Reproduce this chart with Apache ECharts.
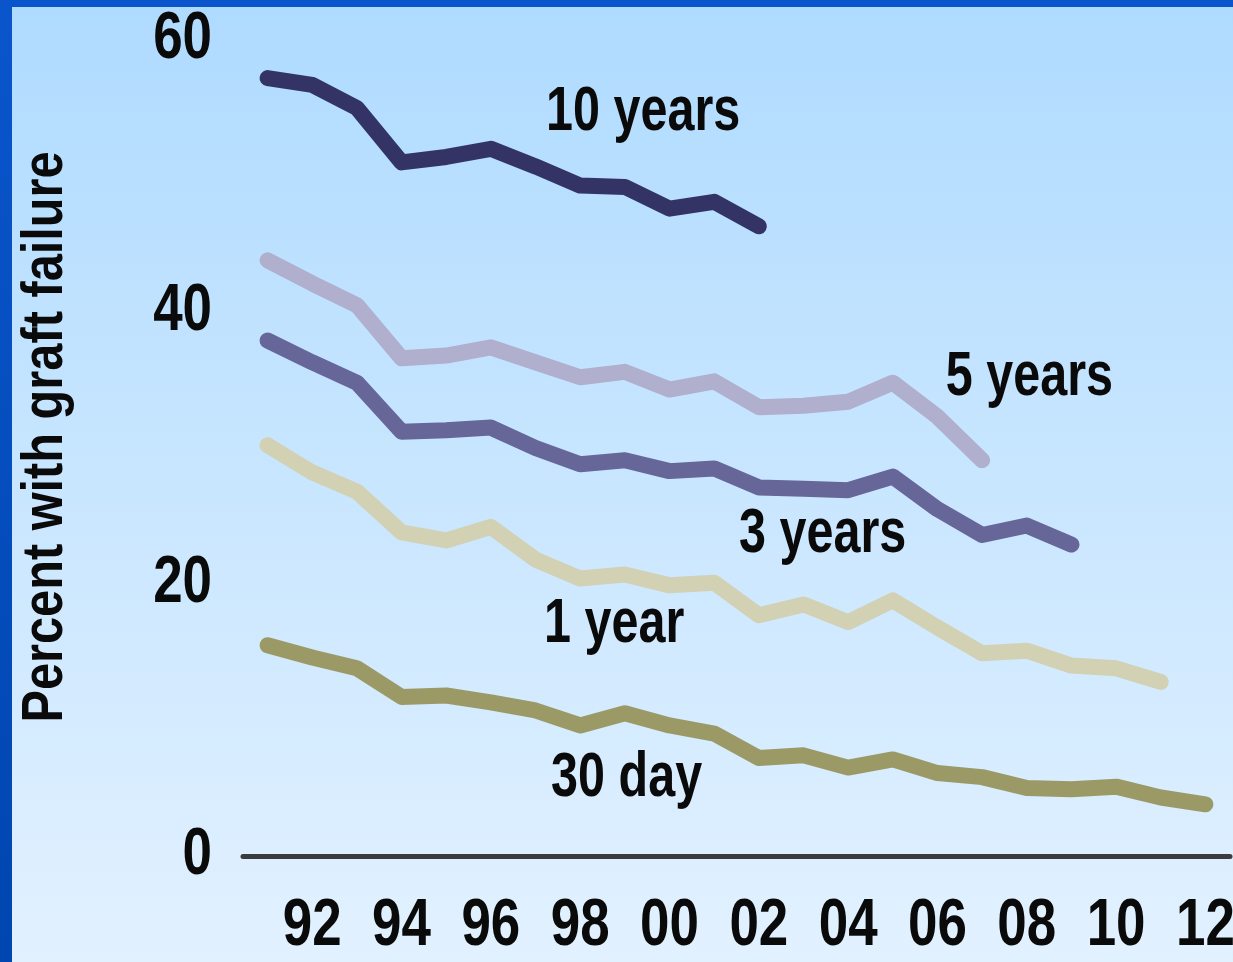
<!DOCTYPE html>
<html>
<head>
<meta charset="utf-8">
<script src="https://cdn.jsdelivr.net/npm/echarts@6/dist/echarts.min.js"></script>
<style>
  html, body { margin: 0; padding: 0; width: 1233px; height: 962px; overflow: hidden; }
  body { background: linear-gradient(180deg, #0a55cc 0%, #0046b0 100%); position: relative; }
  #chart { position: absolute; left: 12px; top: 7px; width: 1221px; height: 955px; }
</style>
</head>
<body>
<div id="chart"></div>
<script>
// Graft failure by year of transplant (1991-2012)
const years = [1991, 1992, 1993, 1994, 1995, 1996, 1997, 1998, 1999, 2000, 2001,
               2002, 2003, 2004, 2005, 2006, 2007, 2008, 2009, 2010, 2011, 2012];
const xTickYears = [1992, 1994, 1996, 1998, 2000, 2002, 2004, 2006, 2008, 2010, 2012];
const yTicks = [0, 20, 40, 60];
const yAxisTitle = 'Percent with graft failure';

const seriesNames = ['10 years', '5 years', '3 years', '1 year', '30 day'];
const tenYear   = [57.2, 56.7, 55.0, 51.0, 51.4, 52.0, 50.7, 49.3, 49.2, 47.6, 48.1, 46.3];
const fiveYear  = [43.8, 42.1, 40.5, 36.6, 36.8, 37.4, 36.3, 35.2, 35.6, 34.3, 34.9, 33.0,
                   33.1, 33.4, 34.8, 32.3, 29.1];
const threeYear = [37.9, 36.3, 34.8, 31.2, 31.3, 31.5, 30.0, 28.8, 29.1, 28.3, 28.5, 27.1,
                   27.0, 26.9, 27.9, 25.5, 23.6, 24.3, 22.9];
const oneYear   = [30.2, 28.2, 26.8, 23.8, 23.2, 24.2, 21.8, 20.4, 20.7, 19.9, 20.1, 17.7,
                   18.5, 17.2, 18.8, 16.8, 14.9, 15.1, 14.0, 13.8, 12.8];
const thirtyDay = [15.5, 14.6, 13.8, 11.7, 11.8, 11.3, 10.7, 9.6, 10.5, 9.6, 9.0, 7.2,
                   7.4, 6.5, 7.1, 6.1, 5.8, 5.0, 4.9, 5.1, 4.3, 3.8];

// Where each series name sits, in [year, percent]
const labelAnchors = [[1999.41, 54.67], [2008.06, 35.15], [2003.43, 23.6], [1998.76, 17.0], [1999.04, 5.66]];

const colors = ['#343366', '#b0afcd', '#666699', '#d2d1b4', '#9b9a66'];
const allValues = [tenYear, fiveYear, threeYear, oneYear, thirtyDay];

const X_MIN = 1990.45, X_MAX = 2012.55;
const FAMILY = '"Liberation Sans", Arial, sans-serif';
const INK = '#0a0a0a';

const chart = echarts.init(document.getElementById('chart'), null, { renderer: 'canvas' });

const series = seriesNames.map((name, i) => ({
  name: name,
  type: 'line',
  data: allValues[i].map((v, k) => [years[k], v]),
  showSymbol: false,
  symbol: 'none',
  lineStyle: { color: colors[i], width: 16, cap: 'round', join: 'round' },
  itemStyle: { color: colors[i] },
  z: 2
}));

chart.setOption({
  animation: false,
  backgroundColor: {
    type: 'linear', x: 0, y: 0, x2: 0, y2: 1,
    colorStops: [
      { offset: 0, color: '#afdbff' },
      { offset: 1, color: '#e2f1ff' }
    ]
  },
  grid: { left: 231, right: 3, top: 33, bottom: 106, containLabel: false, outerBoundsMode: 'none' },
  xAxis: {
    type: 'value',
    min: X_MIN,
    max: X_MAX,
    splitLine: { show: false },
    axisTick: { show: false },
    axisLabel: { show: false },
    axisLine: { show: true, onZero: false, lineStyle: { color: '#3c3c3c', width: 5, cap: 'round' } }
  },
  yAxis: {
    type: 'value',
    min: 0,
    max: 60,
    interval: 20,
    splitLine: { show: false },
    axisTick: { show: false },
    axisLine: { show: false },
    axisLabel: { show: false }
  },
  series: series
});

// Condensed bold text (narrow face emulated with a horizontal squeeze),
// placed through the chart's own coordinate conversion.
function squeezedText(text, x, y, size, squeeze, align, extra) {
  return Object.assign({
    type: 'text',
    x: x,
    y: y,
    scaleX: squeeze,
    silent: true,
    z: 10,
    style: {
      text: text,
      font: 'bold ' + size + 'px ' + FAMILY,
      fill: INK,
      align: align,
      verticalAlign: 'middle'
    }
  }, extra || {});
}

const toPx = (pt) => chart.convertToPixel({ gridIndex: 0 }, pt);
const graphics = [];

yTicks.forEach(v => {
  const p = toPx([X_MIN, v]);
  graphics.push(squeezedText(String(v), p[0] - 31, p[1], 67, 0.79, 'right'));
});

xTickYears.forEach(yr => {
  const p = toPx([yr, 0]);
  graphics.push(squeezedText(String(yr % 100).padStart(2, '0'), p[0], p[1] + 71, 67, 0.79, 'center'));
});

seriesNames.forEach((name, i) => {
  const p = toPx(labelAnchors[i]);
  graphics.push(squeezedText(name, p[0], p[1], 63, 0.77, 'center'));
});

// Vertical axis title, centred on the plot height
const plotTop = toPx([X_MIN, 60])[1];
const plotBottom = toPx([X_MIN, 0])[1];
graphics.push(squeezedText(yAxisTitle, 34, (plotTop + plotBottom) / 2 - 11, 58, 0.84, 'center',
  { rotation: Math.PI / 2 }));

chart.setOption({ graphic: graphics });
</script>
</body>
</html>
